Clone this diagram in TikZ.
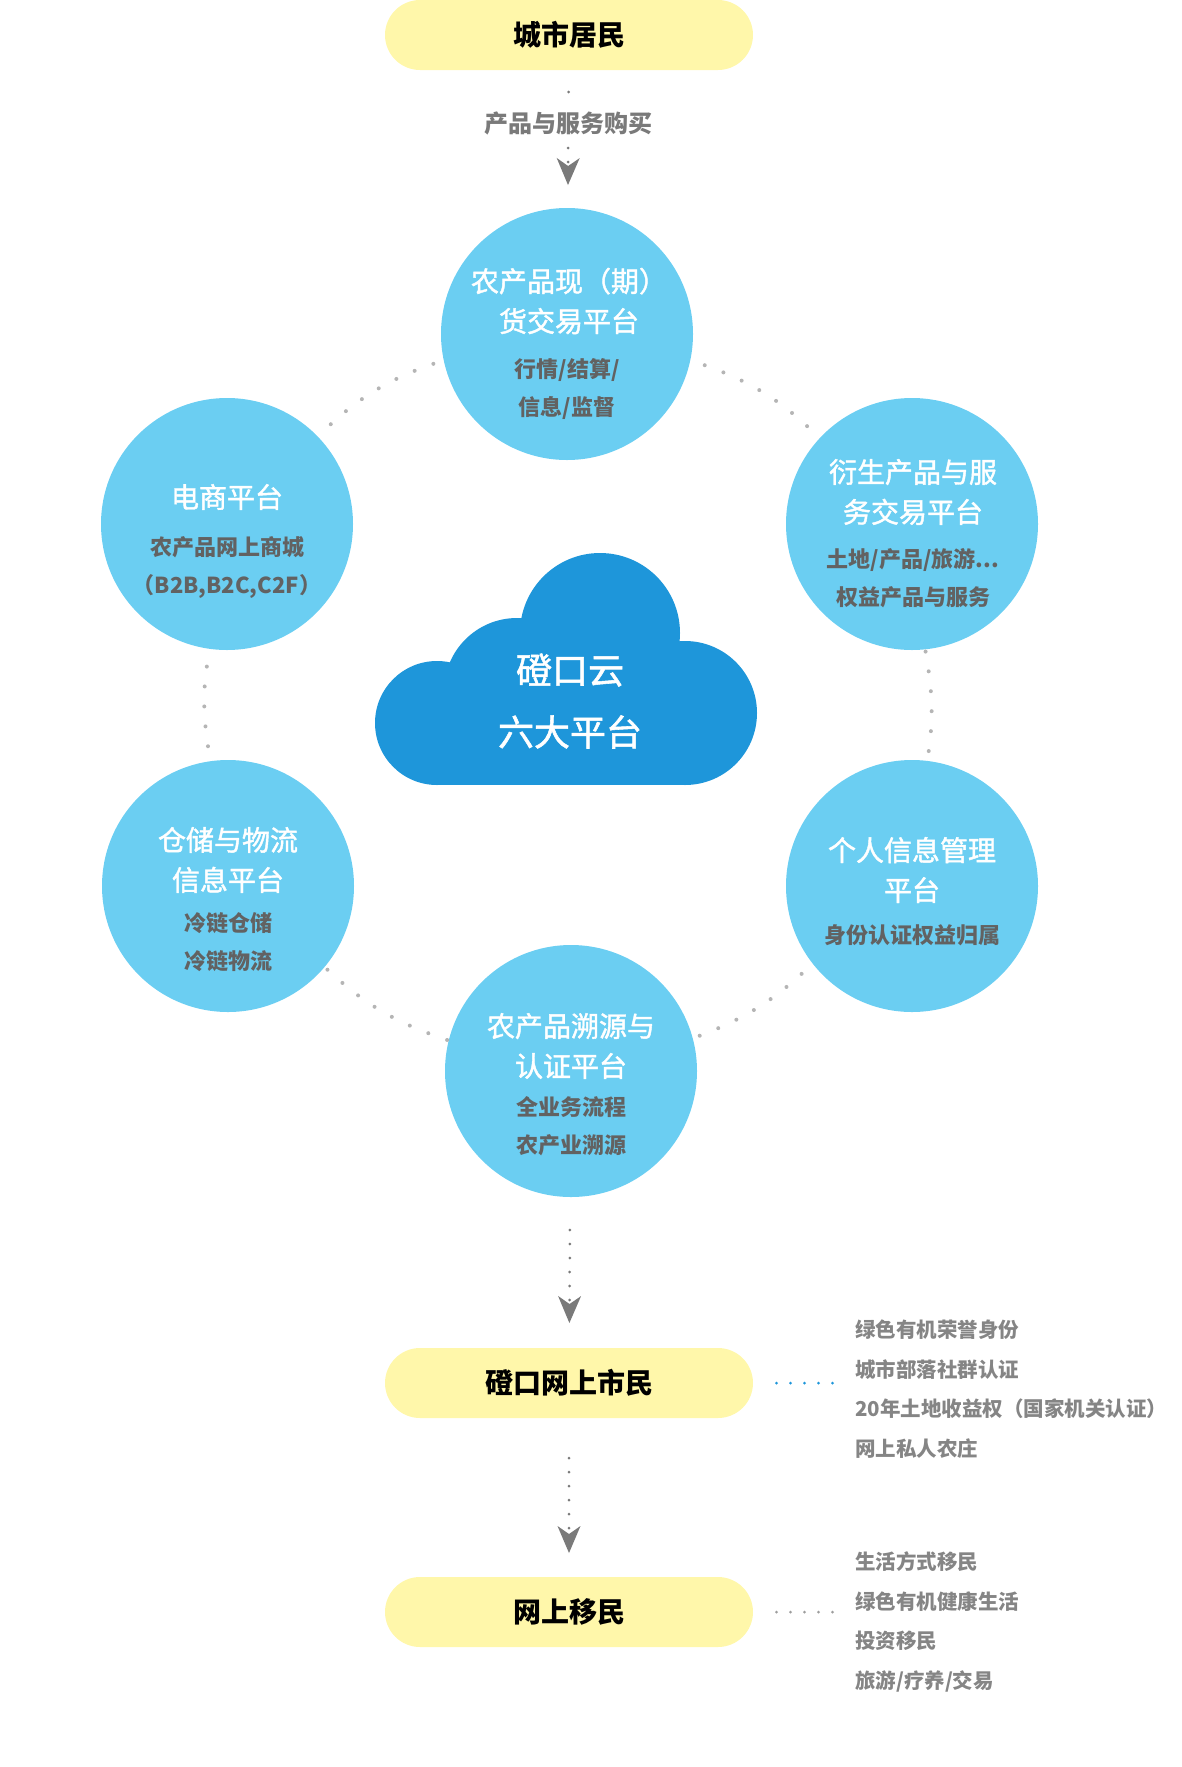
\documentclass[tikz,border=0pt]{standalone}
\usepackage{fontspec}
\setmainfont{Noto Sans CJK SC}
\newfontfamily\medfont{Noto Sans CJK SC}[FakeBold=1.5]
\usetikzlibrary{arrows.meta}

\definecolor{pillyellow}{HTML}{FFF7AA}
\definecolor{skyblue}{HTML}{6BCEF2}
\definecolor{cloudblue}{HTML}{1E96DA}
\definecolor{subgray}{HTML}{626262}
\definecolor{sidegray}{HTML}{858585}
\definecolor{dotgray}{HTML}{B5B5B5}
\definecolor{arrowgray}{HTML}{7A7A7A}

\begin{document}
\begin{tikzpicture}[
    x=1pt, y=-1pt,
    platform/.style={circle, fill=skyblue, minimum size=252pt, inner sep=0pt, outer sep=0pt},
    ptitle/.style={text=white, align=center, inner sep=0pt, font=\fontsize{28}{40}\selectfont\medfont},
    psub/.style={text=subgray, align=center, inner sep=0pt, font=\fontsize{22}{38}\selectfont\bfseries},
    pill/.style={rectangle, rounded corners=35pt, fill=pillyellow, minimum width=368pt,
        minimum height=70pt, inner sep=0pt, outer sep=0pt, font=\fontsize{28}{28}\selectfont\bfseries},
    sidetext/.style={anchor=west, align=left, inner sep=0pt, text=sidegray,
        font=\fontsize{20.5}{39.5}\selectfont\bfseries},
    flow/.style={draw=arrowgray, line width=3pt, line cap=round, dash pattern=on 0pt off 14pt,
        -{Stealth[length=27pt, width=23pt, inset=8pt, line width=0pt, color=arrowgray]}},
    flowlabel/.style={fill=white, inner xsep=2pt, inner ysep=7pt, text=arrowgray,
        font=\fontsize{24}{24}\selectfont\bfseries},
    ringdots/.style={draw=dotgray, line width=4pt, line cap=round, dash pattern=on 0pt off 20pt},
    sidedots/.style={line width=3pt, line cap=round, dash pattern=on 0pt off 14pt}
]
    \useasboundingbox (0,0) rectangle (1182,1767);

    % Nube central
    \foreach \cx/\cy/\r in {600/633/80, 437/723/62, 517/691/73, 685/713/72}
        \fill[cloudblue] (\cx,\cy) circle (\r);
    \fill[cloudblue] (437,700) rectangle (685,785);
    \node[text=white, align=center, inner sep=0pt, font=\fontsize{36}{62}\selectfont\medfont] (cloud) at (570,701) {磴口云\\六大平台};

    % Plataformas
    \node[platform] (trade) at (567,334) {};
    \node[platform] (mall) at (227,524) {};
    \node[platform] (deriv) at (912,524) {};
    \node[platform] (store) at (228,886) {};
    \node[platform] (ident) at (912,886) {};
    \node[platform] (trace) at (571,1071) {};

    \node[ptitle] (trade-t) at (569,301) {农产品现（期）\\货交易平台};
    \node[psub] (trade-s) at (567,389) {行情/结算/\\信息/监督};
    \node[ptitle] (mall-t) at (227,497) {电商平台};
    \node[psub] (mall-s) at (227,567) {农产品网上商城\\（B2B,B2C,C2F）};
    \node[ptitle] (deriv-t) at (913,492) {衍生产品与服\\务交易平台};
    \node[psub] (deriv-s) at (913,578) {土地/产品/旅游...\\权益产品与服务};
    \node[ptitle] (store-t) at (228,860) {仓储与物流\\信息平台};
    \node[psub] (store-s) at (228,942) {冷链仓储\\冷链物流};
    \node[ptitle] (ident-t) at (912,870) {个人信息管理\\平台};
    \node[psub] (ident-s) at (912,935) {身份认证权益归属};
    \node[ptitle] (trace-t) at (571,1046) {农产品溯源与\\认证平台};
    \node[psub] (trace-s) at (571,1126) {全业务流程\\农产业溯源};

    % Anillo punteado
    \draw[ringdots, shorten <=11pt, shorten >=12pt] (trade.192) to[bend right=12] (mall.44);
    \draw[ringdots, shorten <=18pt, shorten >=10pt] (mall.262) to[bend right=9] (store.98);
    \draw[ringdots, shorten <=4pt] (store.320) to[bend right=12] (trace.166);
    \draw[ringdots, shorten <=7.5pt, shorten >=10pt] (trace.15) to[bend right=11] (ident.218);
    \draw[ringdots, shorten <=10pt] (ident.83) to[bend right=9] (deriv.276);
    \draw[ringdots, shorten <=17.5pt, shorten >=10pt] (deriv.137) to[bend right=12] (trade.348);

    % Ciudadanos
    \node[pill] (resident) at (569,35) {城市居民};
    \node[pill] (citizen) at (569,1383) {磴口网上市民};
    \node[pill] (migrant) at (569,1612) {网上移民};

    \node[sidetext] (perks) at (855,1389) {绿色有机荣誉身份\\城市部落社群认证\\20年土地收益权（国家机关认证）\\网上私人农庄};
    \node[sidetext] (moves) at (855,1622) {生活方式移民\\绿色有机健康生活\\投资移民\\旅游/疗养/交易};

    % Flechas
    \draw[flow, shorten <=22pt, shorten >=23pt] (resident) -- node[flowlabel, pos=0.384] (buy) {产品与服务购买} (trade);
    \draw[flow, shorten <=33pt, shorten >=25pt] (trace) -- (citizen);
    \draw[flow, shorten <=40pt, shorten >=24pt] (citizen) -- (migrant);

    \draw[sidedots, draw=cloudblue, shorten <=23.5pt, shorten >=18.5pt] (citizen.east) -- (citizen.east -| perks.west);
    \draw[sidedots, draw=sidegray!80, shorten <=23.5pt, shorten >=18.5pt] (migrant.east) -- (migrant.east -| moves.west);
\end{tikzpicture}
\end{document}
